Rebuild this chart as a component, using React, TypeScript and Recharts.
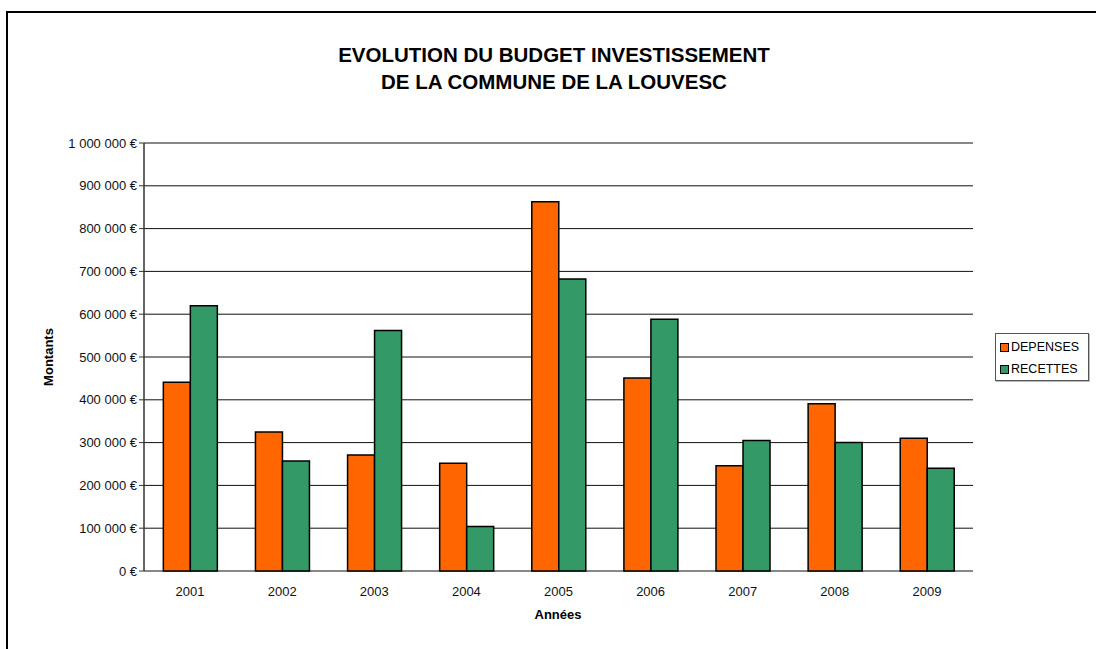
import { Bar, BarChart, CartesianGrid, XAxis, YAxis } from "recharts";

const years = ["2001", "2002", "2003", "2004", "2005", "2006", "2007", "2008", "2009"];
const depenses = [441000, 325000, 271000, 252000, 863000, 451000, 246000, 391000, 310000];
const recettes = [620000, 257000, 562000, 104000, 682000, 588000, 305000, 300000, 240000];
const yTicks = [0, 100000, 200000, 300000, 400000, 500000, 600000, 700000, 800000, 900000, 1000000];
const boundaryTicks = [0, 1, 2, 3, 4, 5, 6, 7, 8, 9];

const ORANGE = "#FF6600";
const GREEN = "#339966";
const FONT = "'Liberation Sans', Arial, sans-serif";

const data = years.map((year, i) => ({
  year,
  DEPENSES: depenses[i],
  RECETTES: recettes[i],
}));

const formatEuro = (v: number) =>
  `${v.toLocaleString("en-US").replace(/,/g, " ")} €`;

const legendItems = [
  { name: "DEPENSES", color: ORANGE },
  { name: "RECETTES", color: GREEN },
];

const LegendBox = () => (
  <div
    style={{
      position: "absolute",
      left: 995,
      top: 333,
      width: 94,
      height: 48,
      boxSizing: "border-box",
      border: "1px solid #555",
      boxShadow: "1px 1px 0 #bbb",
      background: "#fff",
      padding: "2px 0 0 4px",
      fontFamily: FONT,
      fontSize: 12.5,
      color: "#000",
    }}
  >
    {legendItems.map((it) => (
      <div key={it.name} style={{ display: "flex", alignItems: "center", height: 22 }}>
        <span
          style={{
            display: "inline-block",
            width: 7,
            height: 7,
            background: it.color,
            border: "1px solid #000",
            marginRight: 2,
          }}
        />
        {it.name}
      </div>
    ))}
  </div>
);

export default function App() {
  return (
    <div
      style={{
        position: "absolute",
        left: 0,
        top: 0,
        width: 1096,
        height: 649,
        background: "#fff",
        overflow: "hidden",
        fontFamily: FONT,
      }}
    >
      {/* frame of the worksheet chart: only left and top edges are in view */}
      <div
        style={{
          position: "absolute",
          left: 6,
          top: 11,
          width: 1090,
          height: 638,
          boxSizing: "border-box",
          borderLeft: "2px solid #000",
          borderTop: "2px solid #000",
        }}
      />
      <div
        style={{
          position: "absolute",
          left: 0,
          width: 1108,
          top: 41,
          textAlign: "center",
          fontWeight: "bold",
          fontSize: 20.5,
          lineHeight: "27px",
          color: "#000",
        }}
      >
        EVOLUTION DU BUDGET INVESTISSEMENT
        <br />
        DE LA COMMUNE DE LA LOUVESC
      </div>
      <div
        style={{
          position: "absolute",
          left: 48,
          top: 357,
          transform: "translate(-50%, -50%) rotate(-90deg)",
          fontWeight: "bold",
          fontSize: 13,
          whiteSpace: "nowrap",
        }}
      >
        Montants
      </div>
      <div
        style={{
          position: "absolute",
          left: 558,
          top: 614,
          transform: "translate(-50%, -50%)",
          fontWeight: "bold",
          fontSize: 13,
        }}
      >
        Années
      </div>
      <div style={{ position: "absolute", left: 0, top: 0 }}>
        <BarChart
          width={1096}
          height={649}
          data={data}
          margin={{ top: 143, right: 123, bottom: 46, left: 34 }}
          barCategoryGap="21%"
          barGap={0}
        >
          <CartesianGrid vertical={false} stroke="#111" strokeWidth={1} />
          <XAxis
            xAxisId="frameTop"
            orientation="top"
            type="number"
            domain={[0, 9]}
            height={0}
            tick={false}
            tickLine={false}
            axisLine={{ stroke: "#888", strokeWidth: 1.5 }}
          />
          <XAxis
            xAxisId="bounds"
            type="number"
            domain={[0, 9]}
            ticks={boundaryTicks}
            tickFormatter={() => ""}
            height={0}
            axisLine={{ stroke: "#333", strokeWidth: 1.5 }}
            tickLine={{ stroke: "#333" }}
            tickSize={5}
          />
          <XAxis
            dataKey="year"
            height={32}
            axisLine={false}
            tickLine={false}
            tick={{ fill: "#111", fontSize: 13, fontFamily: FONT }}
            tickMargin={10}
          />
          <YAxis
            domain={[0, 1000000]}
            ticks={yTicks}
            width={110}
            tickFormatter={formatEuro}
            axisLine={{ stroke: "#333", strokeWidth: 1.5 }}
            tickLine={{ stroke: "#333" }}
            tickSize={5}
            tick={{ fill: "#111", fontSize: 13, fontFamily: FONT }}
            tickMargin={2}
            interval={0}
          />
          <YAxis
            yAxisId="frame"
            orientation="right"
            domain={[0, 1000000]}
            width={0}
            tick={false}
            tickLine={false}
            axisLine={{ stroke: "#888", strokeWidth: 1.5 }}
          />
          <Bar
            dataKey="DEPENSES"
            fill={ORANGE}
            stroke="#000"
            strokeWidth={1.5}
            isAnimationActive={false}
          />
          <Bar
            dataKey="RECETTES"
            fill={GREEN}
            stroke="#000"
            strokeWidth={1.5}
            isAnimationActive={false}
          />
        </BarChart>
      </div>
      <LegendBox />
    </div>
  );
}
